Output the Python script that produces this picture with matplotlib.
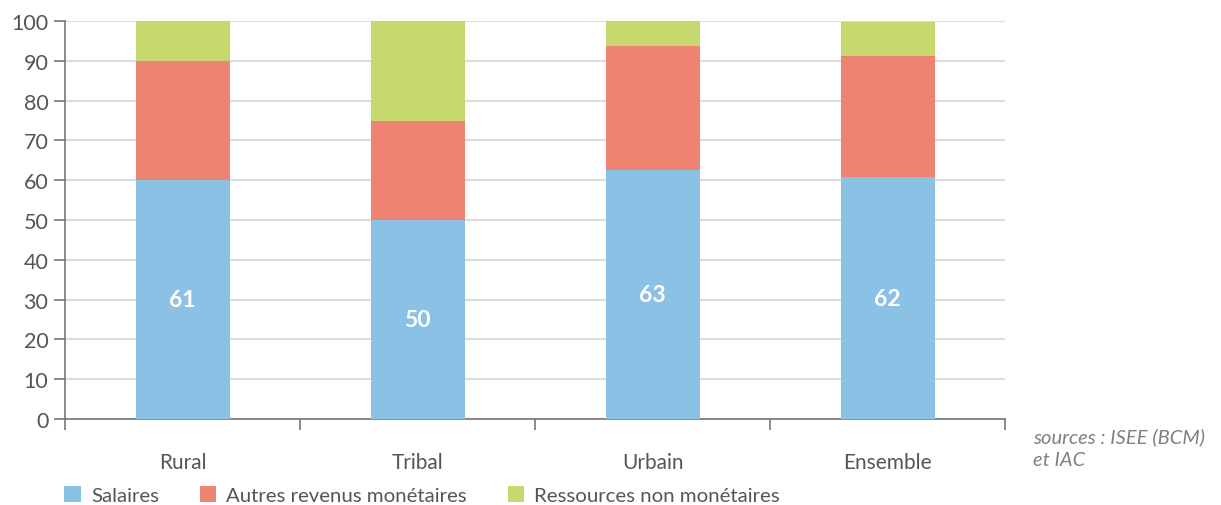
import matplotlib.pyplot as plt
from matplotlib.patches import Patch
import numpy as np

plt.rcParams['font.family'] = ['Lato', 'DejaVu Sans']

categories = ["Rural", "Tribal", "Urbain", "Ensemble"]
salaires = [60.0, 50.0, 62.6, 60.8]
autres = [30.0, 25.0, 31.1, 30.4]
ressources = [10.0, 25.0, 6.3, 8.5]
labels_salaires = ["61", "50", "63", "62"]

series_names = ["Salaires", "Autres revenus monétaires", "Ressources non monétaires"]
colors = ["#8AC1E4", "#EE8371", "#C6D76E"]
text_color = "#555555"

fig = plt.figure(figsize=(12.21, 5.06), dpi=100)
ax = fig.add_axes([65 / 1221, 1 - 420 / 506, 940 / 1221, 398 / 506])

x = np.arange(len(categories))
w = 0.4
ax.bar(x, salaires, width=w, color=colors[0], zorder=3)
ax.bar(x, autres, width=w, bottom=salaires, color=colors[1], zorder=3)
bottom2 = np.array(salaires) + np.array(autres)
ax.bar(x, ressources, width=w, bottom=bottom2, color=colors[2], zorder=3)

for xi, v, lab in zip(x, salaires, labels_salaires):
    ax.text(xi, v / 2, lab, ha="center", va="center", color="white",
            fontsize=16.5, fontweight="bold", zorder=4)

ax.set_xlim(-0.5, len(categories) - 0.5)
ax.set_ylim(0, 100)
ax.set_yticks(np.arange(0, 101, 10))
ax.grid(axis="y", color="#dcdcdc", linewidth=1.5, zorder=0)
ax.set_axisbelow(True)

# category boundaries as tick marks, labels as minor ticks
ax.set_xticks(np.arange(-0.5, len(categories), 1.0))
ax.set_xticklabels([])
ax.set_xticks(x, minor=True)
ax.set_xticklabels(categories, minor=True)
ax.tick_params(axis="x", which="major", direction="out", length=8, width=1.2, color="#777777")
ax.tick_params(axis="x", which="minor", length=0, pad=24, labelsize=15, labelcolor=text_color)
ax.tick_params(axis="y", direction="out", length=8, width=1.2, color="#777777",
               labelsize=15.5, labelcolor=text_color, pad=4)

for s in ["top", "right"]:
    ax.spines[s].set_visible(False)
for s in ["left", "bottom"]:
    ax.spines[s].set_color("#777777")
    ax.spines[s].set_linewidth(1.2)

handles = [Patch(facecolor=c, edgecolor="none") for c in colors]
fig.legend(handles, series_names, loc="center left", bbox_to_anchor=(46 / 1221, 1 - 496 / 506),
           ncol=3, frameon=False, fontsize=14.7, handlelength=0.8, handleheight=0.8,
           handletextpad=0.5, columnspacing=2.0, labelcolor=text_color)

fig.text(1033 / 1221, 1 - 437 / 506, "sources : ISEE (BCM)", ha="left", va="center",
         fontsize=14.5, style="italic", color="#808080")
fig.text(1033 / 1221, 1 - 461 / 506, "et IAC", ha="left", va="center",
         fontsize=14.5, style="italic", color="#808080")

fig.savefig("out.png", dpi=100)
